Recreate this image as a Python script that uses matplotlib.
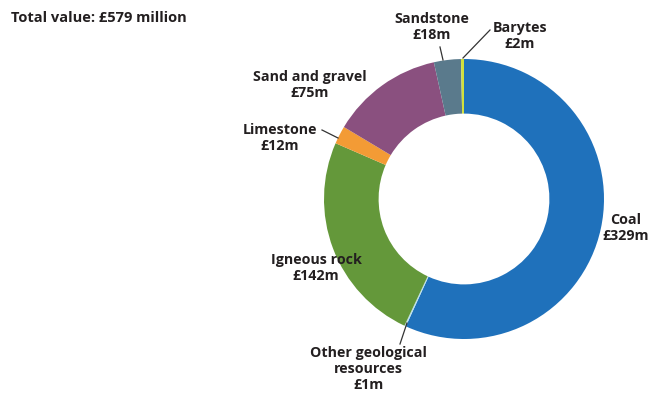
import numpy as np
import matplotlib
matplotlib.use("Agg")
import matplotlib.pyplot as plt

plt.rcParams['font.family'] = ['Open Sans', 'DejaVu Sans']

# values in £ million, clockwise from 12 o'clock
names = ["Coal", "Other geological\nresources", "Igneous rock", "Limestone",
         "Sand and gravel", "Sandstone", "Barytes"]
values = [329, 1, 142, 12, 75, 18, 2]
colors = ["#1f71bb", "#b9e1ec", "#64983a", "#f39b35", "#8a507f", "#5a7a8c", "#d2e03c"]
total_label = "Total value: £579 million"

# label placement in pixels (x, y from top) and leader line ends
label_pos = [(626, 228), (368, 369), (316, 268), (280, 138), (310, 85), (432, 27), (520, 36)]
leaders = [None, ((400, 344), (407, 323)), None, ((322, 130), (338, 138)), None,
           ((440, 47), (443, 60)), ((490, 30), (463, 58))]

W, H = 664, 394
fig = plt.figure(figsize=(W / 100, H / 100), dpi=100)
ax = fig.add_axes([0, 0, 1, 1])

cx, cy, r = 464, 199, 140
ax.pie(values, colors=colors, startangle=90, counterclock=False,
       center=(cx, H - cy), radius=r, frame=True,
       wedgeprops=dict(width=r * 0.39, linewidth=0))

for name, v, (lx, ly) in zip(names, values, label_pos):
    ax.text(lx, H - ly, f"{name}\n£{v}m", ha='center', va='center',
            fontsize=10.3, fontweight='bold', color='#231f20', linespacing=1.2)

for ld in leaders:
    if ld is None:
        continue
    (x0, y0), (x1, y1) = ld
    ax.plot([x0, x1], [H - y0, H - y1], color='#333333', lw=0.9)

ax.text(11, H - 18, total_label, ha='left', va='center', fontsize=10.5,
        fontweight='bold', color='#231f20')

ax.set_xlim(0, W)
ax.set_ylim(0, H)
ax.set_aspect('equal')
ax.axis('off')

fig.savefig("out.png", dpi=100)
